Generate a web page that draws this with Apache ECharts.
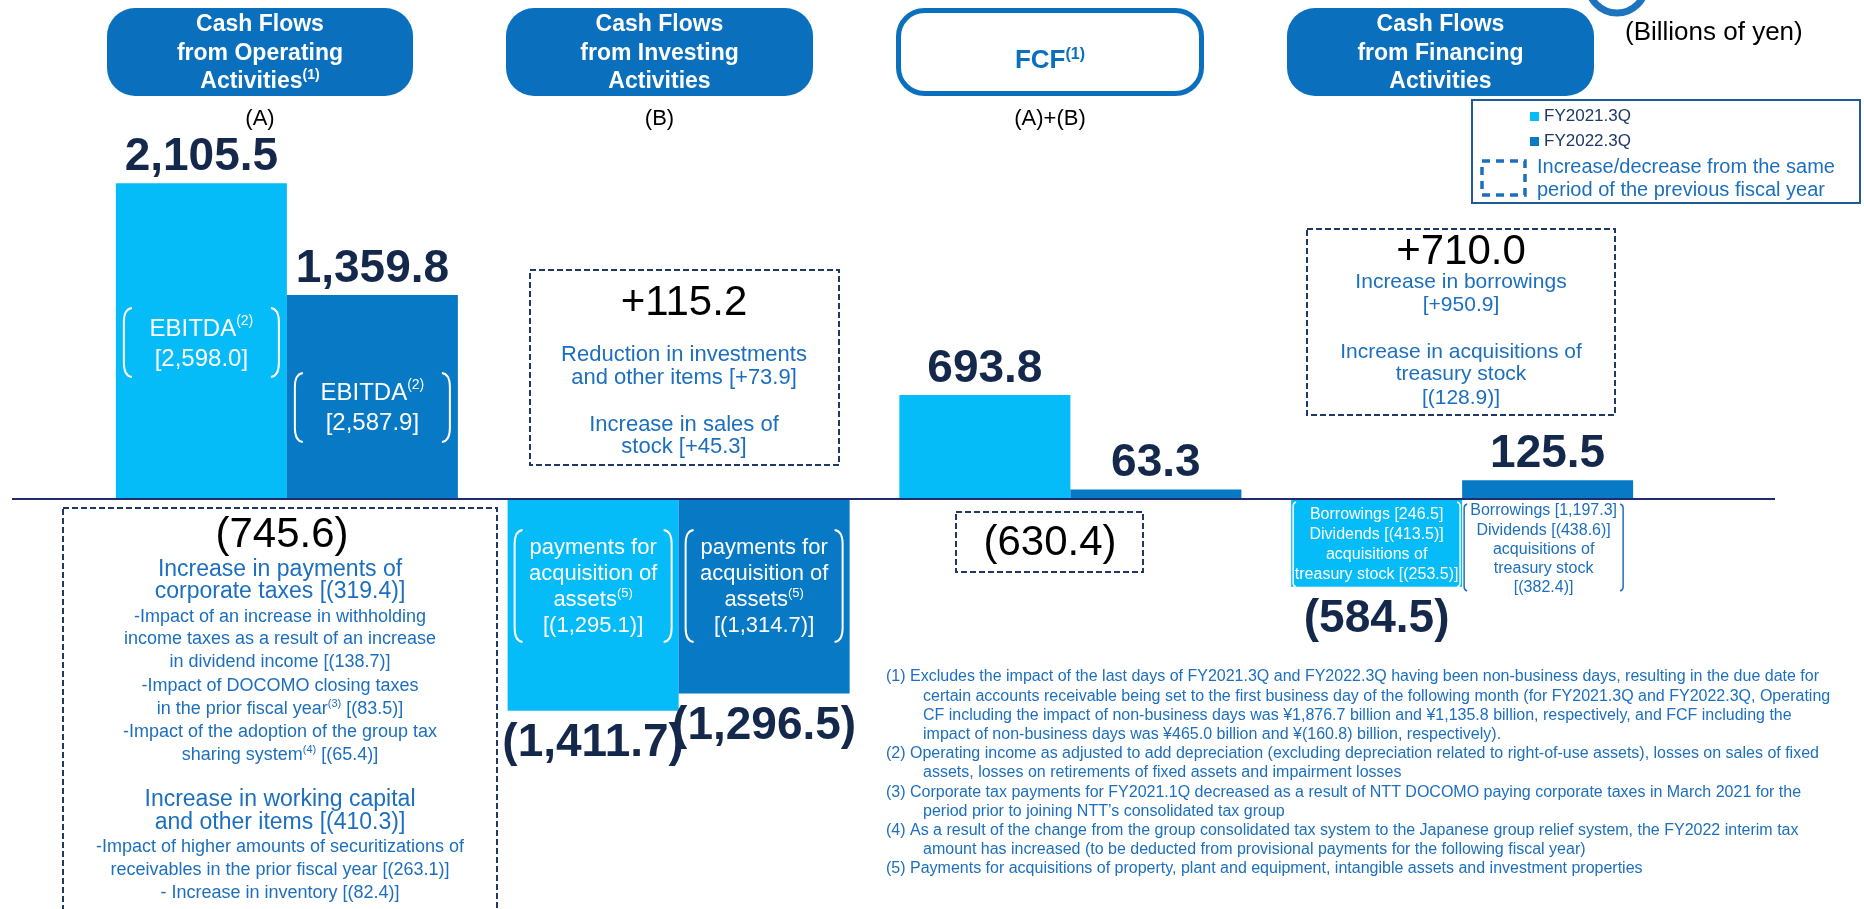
<!DOCTYPE html>
<html>
<head>
<meta charset="utf-8">
<title>Cash Flows</title>
<script src="https://cdn.jsdelivr.net/npm/echarts@6/dist/echarts.min.js"></script>
<style>
  html, body { margin: 0; padding: 0; background: #fff; }
  #chart { width: 1864px; height: 909px; }
</style>
</head>
<body>
<div id="chart"></div>
<script>
// data
const categories = ['Operating', 'Investing', 'FCF', 'Financing'];
const seriesNames = ['FY2021.3Q', 'FY2022.3Q'];
const fy2021 = [2105.5, -1411.7, 693.8, -584.5];
const fy2022 = [1359.8, -1296.5, 63.3, 125.5];
const headerTitles = [
  'Cash Flows\nfrom Operating\nActivities^(1)',
  'Cash Flows\nfrom Investing\nActivities',
  'FCF^(1)',
  'Cash Flows\nfrom Financing\nActivities'
];
const headerSubs = ['(A)', '(B)', '(A)+(B)', ''];
const changes = ['(745.6)', '+115.2', '(630.4)', '+710.0'];

const FONT = '"Liberation Sans", Arial, sans-serif';
const C_LIGHT = '#05BBF8';
const C_DARK = '#0779C5';
const C_HEAD = '#0A70BD';
const C_NOTE = '#1C6FBF';
const C_NAVY = '#13284B';
const C_DASH = '#203864';
const BAR_W = 171;

const fmt = v => {
  const s = Math.abs(v).toLocaleString('en-US', { minimumFractionDigits: 1, maximumFractionDigits: 1 });
  return v < 0 ? '(' + s + ')' : s;
};

const chart = echarts.init(document.getElementById('chart'));

const barData = vals => vals.map(v => ({
  value: v,
  label: { position: v < 0 ? 'bottom' : 'top', distance: v < 0 ? 10 : 3 }
}));

chart.setOption({
  animation: false,
  grid: { left: 91, width: 1567, top: 124, height: 675 },
  legend: {
    data: seriesNames,
    orient: 'vertical', left: 1530, top: 108, padding: 0,
    itemWidth: 9, itemHeight: 9, itemGap: 8, icon: 'rect',
    formatter: '{t|{name}}',
    textStyle: {
      fontSize: 17, color: '#1F3864', fontFamily: FONT,
      rich: { t: { fontSize: 17, lineHeight: 18, color: '#1F3864', fontFamily: FONT } }
    }
  },
  xAxis: {
    type: 'category', data: categories,
    axisLine: { show: false }, axisTick: { show: false }, axisLabel: { show: false }
  },
  yAxis: { type: 'value', min: -2000, max: 2500, show: false, splitLine: { show: false } },
  series: [
    {
      name: seriesNames[0], type: 'bar', data: barData(fy2021),
      barWidth: BAR_W, barGap: '0%', itemStyle: { color: C_LIGHT },
      label: { show: true, formatter: p => fmt(p.value), fontSize: 46, fontWeight: 'bold', color: C_NAVY, fontFamily: FONT }
    },
    {
      name: seriesNames[1], type: 'bar', data: barData(fy2022),
      barWidth: BAR_W, itemStyle: { color: C_DARK },
      label: { show: true, formatter: p => fmt(p.value), fontSize: 46, fontWeight: 'bold', color: C_NAVY, fontFamily: FONT }
    }
  ]
});

// helpers for the annotations
function richify(str) {
  return str.split('\n').map(l => '{m|' + l.replace(/\^\((\d)\)/g, '}{s|($1)}{m|') + '}').join('\n');
}
function txt(x, y, str, o) {
  o = o || {};
  const size = o.size || 20;
  const color = o.color || '#000';
  const st = {
    text: str, fontFamily: FONT, fontSize: size, fontWeight: o.bold ? 'bold' : 'normal',
    fill: color, align: o.align || 'center', verticalAlign: 'middle',
    textAlign: o.align || 'center', textVerticalAlign: 'middle'
  };
  if (o.lh) st.lineHeight = o.lh;
  if (str.indexOf('^(') >= 0) {
    st.text = richify(str);
    st.rich = {
      m: { fontFamily: FONT, fontSize: size, fontWeight: o.bold ? 'bold' : 'normal', fill: color, lineHeight: o.lh || size * 1.2 },
      s: { fontFamily: FONT, fontSize: Math.round(size * 0.6), fontWeight: o.bold ? 'bold' : 'normal', fill: color, verticalAlign: 'top', lineHeight: o.lh || size * 1.2 }
    };
  }
  return { type: 'text', x: x, y: y, z: 60, style: st };
}
function brackets(cx, top, w, h, r, ch, color, lw) {
  const l = cx - w / 2, rt = cx + w / 2, b = top + h;
  const st = { stroke: color, lineWidth: lw, fill: null };
  const els = [];
  [[l, 1], [rt, -1]].forEach(([x, d]) => {
    els.push({ type: 'bezierCurve', z: 55, shape: { x1: x + d * r, y1: top, x2: x, y2: top + ch, cpx1: x, cpy1: top + 1 }, style: st });
    els.push({ type: 'line', z: 55, shape: { x1: x, y1: top + ch, x2: x, y2: b - ch }, style: st });
    els.push({ type: 'bezierCurve', z: 55, shape: { x1: x, y1: b - ch, x2: x + d * r, y2: b, cpx1: x, cpy1: b - 1 }, style: st });
  });
  return els;
}
function dashBox(x, y, w, h) {
  return { type: 'rect', z: 50, shape: { x: x, y: y, width: w, height: h }, style: { fill: null, stroke: C_DASH, lineWidth: 2, lineDash: [6, 3] } };
}

const zeroY = chart.convertToPixel({ yAxisIndex: 0 }, 0);
const barC = (i, s) => chart.convertToPixel({ xAxisIndex: 0 }, categories[i]) + (s === 0 ? -BAR_W / 2 : BAR_W / 2);

const g = [];

// header boxes
const headBoxes = [[107, 306], [506, 307], [896, 308], [1287, 307]];
headBoxes.forEach(([x, w], i) => {
  const fcf = i === 2;
  g.push({
    type: 'rect', z: 10,
    shape: fcf ? { x: x + 2.5, y: 10.5, width: w - 5, height: 83, r: 26 } : { x: x, y: 8, width: w, height: 88, r: 28 },
    style: fcf ? { fill: '#fff', stroke: C_HEAD, lineWidth: 5 } : { fill: C_HEAD }
  });
  g.push(txt(x + w / 2, fcf ? 61 : 53.5, headerTitles[i], { size: fcf ? 26 : 23, bold: true, color: fcf ? C_HEAD : '#fff', lh: 28.5 }));
  if (headerSubs[i]) g.push(txt(x + w / 2, 119, headerSubs[i], { size: 22 }));
});

// unit and ornament
g.push({ type: 'circle', z: 5, shape: { cx: 1617, cy: -16, r: 29 }, style: { fill: null, stroke: '#1E73BE', lineWidth: 7 } });
g.push(txt(1625, 33, '(Billions of yen)', { size: 26, align: 'left' }));

// legend frame and dashed sample
g.push({ type: 'rect', z: 5, shape: { x: 1472, y: 100, width: 388, height: 103 }, style: { fill: null, stroke: '#1F5C99', lineWidth: 2 } });
g.push({ type: 'rect', z: 6, shape: { x: 1482, y: 161, width: 43, height: 34 }, style: { fill: null, stroke: C_NOTE, lineWidth: 3.5, lineDash: [8, 6] } });
g.push(txt(1537, 167, 'Increase/decrease from the same', { size: 20, color: C_NOTE, align: 'left' }));
g.push(txt(1537, 190, 'period of the previous fiscal year', { size: 20, color: C_NOTE, align: 'left' }));

// zero line
g.push({ type: 'line', z: 70, shape: { x1: 12, y1: zeroY, x2: 1775, y2: zeroY }, style: { stroke: '#1F2D6E', lineWidth: 2 } });

// inside-bar notes: EBITDA
let c = barC(0, 0);
g.push(...brackets(c, 308, 155, 69, 8, 14, '#fff', 2));
g.push(txt(c, 329, 'EBITDA^(2)', { size: 24, color: '#fff' }));
g.push(txt(c, 359, '[2,598.0]', { size: 24, color: '#fff' }));
c = barC(0, 1);
g.push(...brackets(c, 373, 155, 69, 8, 14, '#fff', 2));
g.push(txt(c, 393, 'EBITDA^(2)', { size: 24, color: '#fff' }));
g.push(txt(c, 423, '[2,587.9]', { size: 24, color: '#fff' }));

// investing
[['[(1,295.1)]', 0], ['[(1,314.7)]', 1]].forEach(([v, s]) => {
  const x = barC(1, s);
  g.push(...brackets(x, 530, 157, 112, 8, 14, '#fff', 2));
  ['payments for', 'acquisition of', 'assets^(5)', v].forEach((l, k) => g.push(txt(x, 548 + k * 26, l, { size: 22, color: '#fff' })));
});

// financing
c = barC(3, 0);
g.push(...brackets(c, 502, 167, 85, 3, 4, '#fff', 1.5));
['Borrowings [246.5]', 'Dividends [(413.5)]', 'acquisitions of', 'treasury stock [(253.5)]']
  .forEach((l, k) => g.push(txt(c, 515 + k * 19.7, l, { size: 16, color: '#fff' })));
c = barC(3, 1) - 4;
g.push(...brackets(c, 504, 159, 87, 3, 4, C_NOTE, 1.5));
['Borrowings [1,197.3]', 'Dividends [(438.6)]', 'acquisitions of', 'treasury stock', '[(382.4)]']
  .forEach((l, k) => g.push(txt(c, 511 + k * 19.2, l, { size: 16, color: C_NOTE })));

// dashed change boxes
g.push(dashBox(63, 508, 434, 420));
g.push(txt(282, 535, changes[0], { size: 42 }));
[
  ['Increase in payments of', 570, 23], ['corporate taxes [(319.4)]', 592, 23],
  ['-Impact of an increase in withholding', 617, 18], ['income taxes as a result of an increase', 639, 18],
  ['in dividend income [(138.7)]', 662, 18], ['-Impact of DOCOMO closing taxes', 686, 18],
  ['in the prior fiscal year^(3) [(83.5)]', 709, 18], ['-Impact of the adoption of the group tax', 732, 18],
  ['sharing system^(4) [(65.4)]', 755, 18],
  ['Increase in working capital', 800, 23], ['and other items [(410.3)]', 823, 23],
  ['-Impact of higher amounts of securitizations of', 847, 18],
  ['receivables in the prior fiscal year [(263.1)]', 870, 18], ['- Increase in inventory [(82.4)]', 893, 18]
].forEach(([l, y, s]) => g.push(txt(280, y, l, { size: s, color: C_NOTE })));

g.push(dashBox(530, 270, 309, 195));
g.push(txt(684, 303, changes[1], { size: 42 }));
[['Reduction in investments', 355], ['and other items [+73.9]', 378], ['Increase in sales of', 425], ['stock [+45.3]', 447]]
  .forEach(([l, y]) => g.push(txt(684, y, l, { size: 22, color: C_NOTE })));

g.push(dashBox(956, 512, 187, 60));
g.push(txt(1050, 543, changes[2], { size: 42 }));

g.push(dashBox(1307, 229, 308, 186));
g.push(txt(1461, 252, changes[3], { size: 42 }));
[['Increase in borrowings', 282], ['[+950.9]', 305], ['Increase in acquisitions of', 352], ['treasury stock', 374], ['[(128.9)]', 398]]
  .forEach(([l, y]) => g.push(txt(1461, y, l, { size: 21, color: C_NOTE })));

// footnotes
const footnotes = [
  ['(1) Excludes the impact of the last days of FY2021.3Q and FY2022.3Q having been non-business days, resulting in the due date for', 0],
  ['certain accounts receivable being set to the first business day of the following month (for FY2021.3Q and FY2022.3Q, Operating', 1],
  ['CF including the impact of non-business days was ¥1,876.7 billion and ¥1,135.8 billion, respectively, and FCF including the', 1],
  ['impact of non-business days was ¥465.0 billion and ¥(160.8) billion, respectively).', 1],
  ['(2) Operating income as adjusted to add depreciation (excluding depreciation related to right-of-use assets), losses on sales of fixed', 0],
  ['assets, losses on retirements of fixed assets and impairment losses', 1],
  ['(3) Corporate tax payments for FY2021.1Q decreased as a result of NTT DOCOMO paying corporate taxes in March 2021 for the', 0],
  ['period prior to joining NTT\u2019s consolidated tax group', 1],
  ['(4) As a result of the change from the group consolidated tax system to the Japanese group relief system, the FY2022 interim tax', 0],
  ['amount has increased (to be deducted from provisional payments for the following fiscal year)', 1],
  ['(5) Payments for acquisitions of property, plant and equipment, intangible assets and investment properties', 0]
];
footnotes.forEach(([l, ind], k) => g.push(txt(ind ? 923 : 886, 677 + k * 19.2, l, { size: 16, color: C_NOTE, align: 'left' })));

chart.setOption({ graphic: { elements: g } });
</script>
</body>
</html>
